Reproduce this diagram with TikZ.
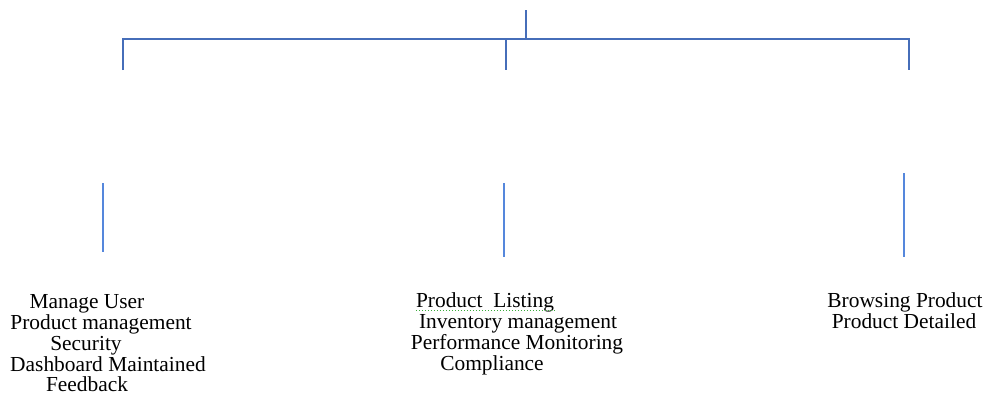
\documentclass[tikz,border=0pt]{standalone}
\usepackage{fontspec}
\setmainfont{Liberation Serif}
\definecolor{topblue}{RGB}{70,110,185}
\definecolor{lowblue}{RGB}{85,135,220}
\definecolor{spellgreen}{RGB}{60,170,60}
\begin{document}
\begin{tikzpicture}[x=1pt,y=-1pt,
  bracket/.style={draw=topblue,line width=2pt},
  stem/.style={draw=lowblue,line width=1.6pt},
  lbl/.style={inner sep=0pt,anchor=base,font=\fontsize{21.4}{22}\selectfont}]
\useasboundingbox (0,0) rectangle (984,394);
% bracket coordinates
\coordinate (root) at (526,10);
\coordinate (join) at (526,39);
\coordinate (hl) at (123,39);
\coordinate (hm) at (506,39);
\coordinate (hr) at (909,39);
\coordinate (ll) at (123,70);
\coordinate (lm) at (506,70);
\coordinate (lr) at (909,70);
\draw[bracket] (root) -- (join);
\draw[bracket] (ll) -- (hl) -- (hr) -- (lr);
\draw[bracket] (hm) -- (lm);
% lower stems
\coordinate (s1a) at (103,183); \coordinate (s1b) at (103,252);
\coordinate (s2a) at (504,183); \coordinate (s2b) at (504,257);
\coordinate (s3a) at (904,173); \coordinate (s3b) at (904,257);
\draw[stem] (s1a) -- (s1b);
\draw[stem] (s2a) -- (s2b);
\draw[stem] (s3a) -- (s3b);
% left texts
\node[lbl] (a1) at (87,308) {Manage User};
\node[lbl] (a2) at (101,329) {Product management};
\node[lbl] (a3) at (86,350) {Security};
\node[lbl] (a4) at (108,371) {Dashboard Maintained};
\node[lbl,text depth=0pt] (a5) at (87,391) {Feedback};
% middle texts
\node[lbl] (b1) at (485,307) {Product\ \ Listing};
\draw[spellgreen,line width=1pt,dotted] ([yshift=-3pt]b1.base west) -- ([yshift=-3pt]b1.base east);
\node[lbl] (b2) at (518,328) {Inventory management};
\node[lbl] (b3) at (517,349) {Performance Monitoring};
\node[lbl] (b4) at (492,370) {Compliance};
% right texts
\node[lbl] (c1) at (905,307) {Browsing Product};
\node[lbl] (c2) at (904,328) {Product Detailed};
\end{tikzpicture}
\end{document}
